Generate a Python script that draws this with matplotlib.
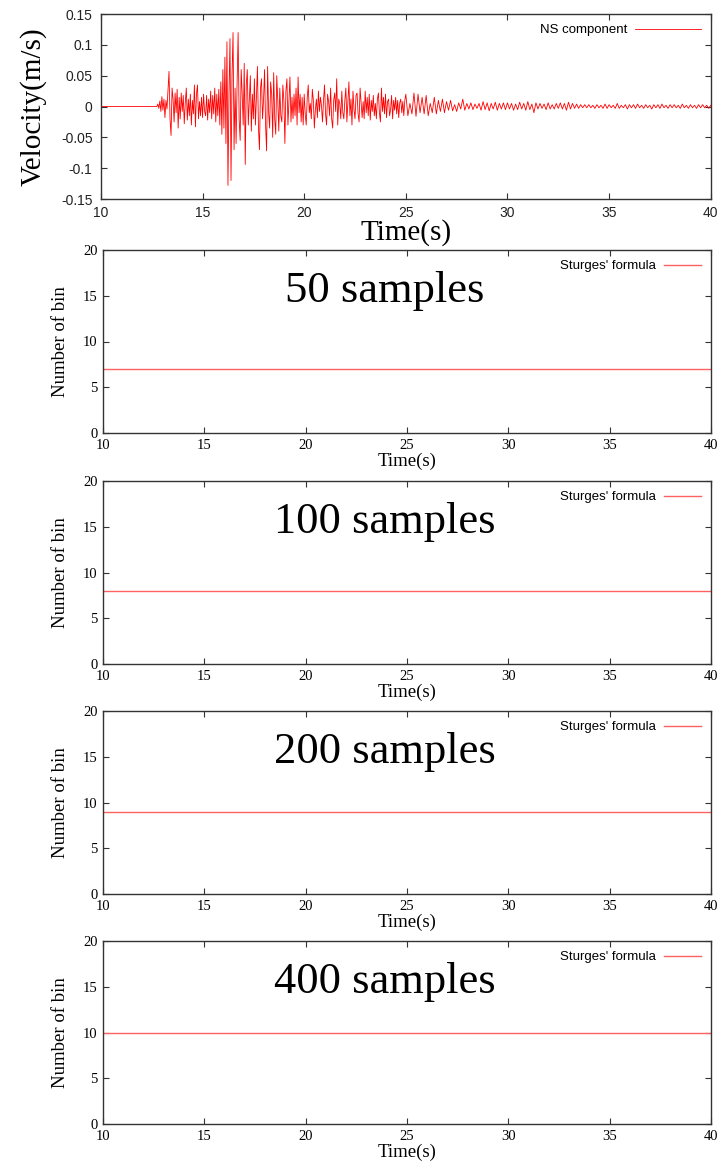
import numpy as np
import matplotlib
matplotlib.use("Agg")
import matplotlib.pyplot as plt

# NS velocity record
quiet_t = [10.0, 12.75]
quiet_v = [0.0, 0.0]

# 12.80 - 15.95 s, every 0.05 s
vel_onset = [0.004, -0.003, 0.009, -0.008, 0.016, -0.006, 0.012, -0.018, 0.010, -0.004,
             0.025, 0.057, -0.02, -0.047, 0.03, 0.012, -0.025, 0.022, -0.01, 0.028,
             -0.035, 0.015, -0.02, 0.022, -0.008, 0.018, -0.028, 0.006, 0.03, -0.022,
             0.012, -0.015, 0.02, -0.03, 0.01, -0.012, 0.035, -0.033, 0.02, 0.035,
             -0.02, 0.008, -0.015, 0.015, -0.018, 0.02, -0.008, -0.015, 0.018, -0.022,
             0.012, -0.01, 0.025, -0.02, 0.018, -0.012, 0.03, -0.025, 0.02, -0.015,
             0.028, -0.03, 0.04, -0.045]
# 16.00 - 19.95 s, every 0.05 s
vel_main = [0.06, -0.035, 0.08, -0.06, 0.105, -0.128, 0.02, 0.11, -0.12, 0.05,
            0.12, -0.07, 0.03, -0.06, 0.04, 0.12, -0.02, -0.055, 0.06, 0.02,
            -0.03, 0.07, -0.094, 0.035, 0.06, -0.03, 0.01, 0.05, -0.04, 0.02,
            -0.02, 0.045, -0.03, 0.015, 0.065, -0.035, -0.07, 0.03, 0.045, -0.02,
            0.01, 0.06, -0.03, -0.072, 0.065, -0.01, -0.035, 0.04, 0.02, -0.05,
            0.055, -0.02, -0.045, 0.05, 0.01, -0.04, 0.03, -0.015, -0.025, 0.035,
            0.01, -0.06, 0.025, 0.045, -0.03, 0.01, 0.048, -0.025, 0.015, -0.02,
            0.02, -0.015, 0.03, -0.03, 0.048, -0.01, 0.02, -0.025, 0.015, -0.03]
# 20.00 - 24.95 s, every 0.05 s
vel_coda = [0.02, -0.012, -0.03, 0.015, 0.035, -0.01, 0.005, -0.02, 0.028, 0.01,
            -0.035, -0.005, 0.012, -0.018, 0.025, -0.008, 0.015, 0.002, -0.025, 0.01,
            0.035, -0.012, -0.03, 0.02, 0.008, -0.015, 0.03, -0.02, -0.035, 0.01,
            0.022, -0.008, 0.045, -0.03, 0.012, 0.005, -0.02, 0.025, -0.01, -0.02,
            0.01, 0.03, -0.025, 0.008, 0.04, -0.015, 0.012, -0.03, 0.025, -0.005,
            -0.02, 0.018, 0.022, -0.012, -0.025, 0.03, 0.005, -0.018, 0.008, -0.02,
            0.025, -0.01, 0.015, -0.015, 0.02, -0.022, 0.01, -0.008, 0.018, -0.015,
            0.005, -0.02, 0.012, 0.022, -0.01, -0.025, 0.03, -0.008, 0.015, -0.012,
            0.02, -0.018, 0.008, 0.012, -0.015, -0.005, 0.018, -0.02, 0.01, -0.006,
            0.015, -0.012, 0.01, -0.018, 0.006, 0.012, -0.01, 0.008, -0.015, 0.01]
# 25.0 - 27.9 s, every 0.1 s
vel_coda2 = [0.02, -0.015, 0.005, -0.012, 0.022, -0.016, 0.02, -0.01, 0.015, -0.012,
             0.018, -0.015, 0.005, -0.01, 0.015, -0.012, 0.01, -0.008, 0.012, -0.01,
             0.008, -0.006, 0.01, -0.007, 0.003, -0.008, 0.006, -0.004, 0.012, -0.006]
# 28.0 - 40.0 s, every 0.1 s
vel_tail = [0.005, -0.004, 0.006, -0.005, 0.004, -0.003, 0.005, -0.006, 0.008, -0.005,
            0.006, -0.007, 0.005, -0.004, 0.007, -0.006, 0.005, -0.004, 0.006, -0.005,
            0.006, -0.004, 0.005, -0.006, 0.004, -0.005, 0.007, -0.004, 0.005, -0.006,
            0.008, -0.005, 0.004, -0.01, 0.006, -0.004, 0.005, -0.003, 0.004, -0.005,
            0.006, -0.004, 0.003, -0.004, 0.005, -0.003, 0.006, -0.004, 0.005, -0.006,
            0.007, -0.004, 0.005, -0.003, 0.004, -0.003, 0.003, -0.002, 0.003, -0.002,
            0.003, -0.002, 0.002, -0.003, 0.003, -0.002, 0.002, -0.003, 0.004, -0.003,
            0.003, -0.002, 0.002, -0.003, 0.005, -0.003, 0.002, -0.002, 0.003, -0.004,
            0.003, -0.002, 0.003, -0.003, 0.004, -0.002, 0.002, -0.003, 0.003, -0.002,
            0.002, -0.004, 0.003, -0.002, 0.003, -0.003, 0.004, -0.002, 0.002, -0.003,
            0.003, -0.002, 0.003, -0.002, 0.002, -0.003, 0.004, -0.002, 0.002, -0.003,
            0.003, -0.002, 0.002, -0.003, 0.003, -0.002, 0.003, -0.002, 0.002, -0.003,
            0.002]

# Sturges' formula bin counts per window size
sample_labels = ["50 samples", "100 samples", "200 samples", "400 samples"]
bin_counts = [7, 8, 9, 10]
bin_t = [10, 40]

segments = [(12.8, 0.05, vel_onset), (16.0, 0.05, vel_main),
            (20.0, 0.05, vel_coda), (25.0, 0.1, vel_coda2), (28.0, 0.1, vel_tail)]
t_parts = [np.array(quiet_t)]
v_parts = [np.array(quiet_v)]
for start, step, vals in segments:
    t_parts.append(start + step * np.arange(len(vals)))
    v_parts.append(np.array(vals))
t_all = np.concatenate(t_parts)
v_all = np.concatenate(v_parts)

serif = ["Liberation Serif", "DejaVu Serif"]
sans = ["Liberation Sans", "DejaVu Sans"]

fig = plt.figure(figsize=(7.26, 11.68), dpi=100)


def gnuplot_style(ax, pad):
    ax.tick_params(direction="in", top=True, right=True, length=4, width=0.8,
                   color="#333333", pad=pad)
    for s in ax.spines.values():
        s.set_linewidth(1.0)
        s.set_color("#333333")


# top: velocity record
ax0 = fig.add_axes([0.139, 0.8296, 0.840, 0.1584])
ax0.plot(t_all, v_all, color="red", lw=0.6, label="NS component")
ax0.set_xlim(10, 40)
ax0.set_ylim(-0.15, 0.15)
ax0.set_xticks(range(10, 41, 5))
ax0.set_yticks(np.arange(-0.15, 0.151, 0.05))
ax0.set_yticklabels(["-0.15", "-0.1", "-0.05", "0", "0.05", "0.1", "0.15"])
gnuplot_style(ax0, 6)
ax0.tick_params(axis="x", pad=5)
for lab in ax0.get_xticklabels() + ax0.get_yticklabels():
    lab.set_family(sans)
    lab.set_fontsize(10)
    lab.set_color("#222222")
ax0.set_xlabel("Time(s)", family=serif, fontsize=21, labelpad=-1)
ax0.set_ylabel("Velocity(m/s)", family=serif, fontsize=21, labelpad=10)
ax0.legend(loc="upper right", frameon=False, markerfirst=False,
           prop={"family": sans, "size": 9.5}, handlelength=5,
           borderaxespad=0.35, handletextpad=0.6)

# lower panels: number of bins
tops = [250, 481, 711, 941]
for label, nb, top in zip(sample_labels, bin_counts, tops):
    h = 183
    ax = fig.add_axes([103 / 726, 1 - (top + h) / 1168, 608 / 726, h / 1168])
    ax.plot(bin_t, [nb, nb], color="#ff6060", lw=1.0, label="Sturges' formula")
    ax.set_xlim(10, 40)
    ax.set_ylim(0, 20)
    ax.set_xticks(range(10, 41, 5))
    ax.set_yticks(range(0, 21, 5))
    gnuplot_style(ax, 4)
    for lab in ax.get_xticklabels() + ax.get_yticklabels():
        lab.set_family(serif)
        lab.set_fontsize(10.5)
    ax.set_xlabel("Time(s)", family=serif, fontsize=13.5, labelpad=1)
    ax.set_ylabel("Number of bin", family=serif, fontsize=13.5, labelpad=10)
    ax.text(0.464, 0.775, label, transform=ax.transAxes, ha="center", va="center",
            family=serif, fontsize=32)
    ax.legend(loc="upper right", frameon=False, markerfirst=False,
              prop={"family": sans, "size": 9.5}, handlelength=2.8,
              borderaxespad=0.35, handletextpad=0.6)

fig.savefig("out.png", dpi=100)
